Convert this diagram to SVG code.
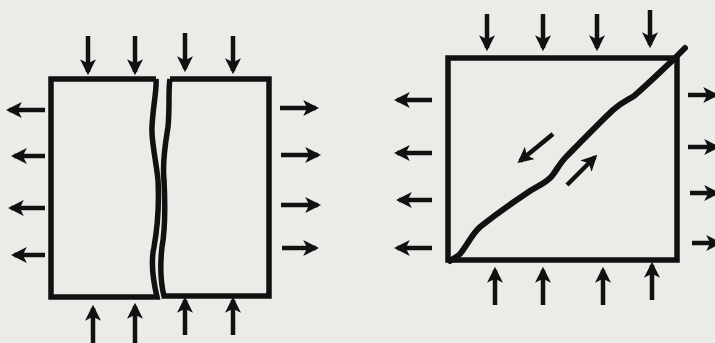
<svg xmlns="http://www.w3.org/2000/svg" width="715" height="343" viewBox="0 0 715 343">
<defs>
<marker id="ah" viewBox="0 0 10 10" refX="8" refY="5" markerUnits="userSpaceOnUse" markerWidth="16" markerHeight="16" orient="auto">
<path d="M0,0 L10,5 L0,10 L2.5,5 z" fill="#111"/>
</marker>
<style>
.edge{stroke:#111;stroke-width:4.5;fill:none;marker-end:url(#ah)}
.outline{stroke:#111;stroke-width:5.5;fill:none;stroke-linejoin:miter}
.crack{stroke:#111;stroke-width:6;fill:none;stroke-linecap:round;stroke-linejoin:round}
</style>
</defs>
<rect width="715" height="343" fill="#ebebe8"/>
<g id="left-block-a">
<path class="outline" d="M156,79 L51,79 L51,297 L157,297 C153,280 151,260 154,247 C158,225 159,200 158,180 C156,160 151,140 152,127 C153,105 157,90 156,79"/>
</g>
<g id="left-block-b">
<path class="outline" d="M170,79 L269,79 L269,296 L164,296 C160,280 160,265 162,247 C166,225 165,200 164,180 C162,160 166,140 168,127 C170,105 168,90 170,79"/>
</g>
<g id="right-block">
<rect class="outline" x="448" y="58" width="229" height="202"/>
<path class="crack" d="M450,261 C453,258 456,258 460,254 C468,244 472,234 480,227 C495,215 512,203 527,193 C537,186 545,184 552,176 C558,168 560,163 566,157 C582,141 598,124 613,110 C622,102 628,100 634,96 C648,84 660,72 673,60 L685,48"/>
</g>
<g id="connectors">
<line class="edge" x1="88" y1="36" x2="88" y2="72"/>
<line class="edge" x1="135" y1="36" x2="135" y2="72"/>
<line class="edge" x1="185" y1="33" x2="185" y2="69"/>
<line class="edge" x1="233" y1="36" x2="233" y2="71"/>
<line class="edge" x1="93" y1="343" x2="93" y2="308"/>
<line class="edge" x1="135" y1="343" x2="135" y2="306"/>
<line class="edge" x1="185" y1="335" x2="185" y2="300"/>
<line class="edge" x1="233" y1="335" x2="233" y2="300"/>
<line class="edge" x1="45" y1="110" x2="9" y2="110"/>
<line class="edge" x1="45" y1="156" x2="14" y2="156"/>
<line class="edge" x1="45" y1="208" x2="11" y2="208"/>
<line class="edge" x1="45" y1="255" x2="14" y2="255"/>
<line class="edge" x1="280" y1="108" x2="316" y2="108"/>
<line class="edge" x1="281" y1="155" x2="318" y2="155"/>
<line class="edge" x1="281" y1="205" x2="318" y2="205"/>
<line class="edge" x1="282" y1="248" x2="316" y2="248"/>
<line class="edge" x1="487" y1="14" x2="487" y2="48"/>
<line class="edge" x1="543" y1="14" x2="543" y2="48"/>
<line class="edge" x1="597" y1="14" x2="597" y2="48"/>
<line class="edge" x1="650" y1="10" x2="650" y2="45"/>
<line class="edge" x1="495" y1="305" x2="495" y2="270"/>
<line class="edge" x1="543" y1="305" x2="543" y2="270"/>
<line class="edge" x1="603" y1="305" x2="603" y2="270"/>
<line class="edge" x1="652" y1="300" x2="652" y2="265"/>
<line class="edge" x1="432" y1="100" x2="397" y2="100"/>
<line class="edge" x1="432" y1="153" x2="397" y2="153"/>
<line class="edge" x1="432" y1="200" x2="399" y2="200"/>
<line class="edge" x1="432" y1="248" x2="397" y2="248"/>
<line class="edge" x1="688" y1="95" x2="716" y2="95"/>
<line class="edge" x1="688" y1="147" x2="717" y2="147"/>
<line class="edge" x1="690" y1="193" x2="717" y2="193"/>
<line class="edge" x1="692" y1="243" x2="719" y2="243"/>
<line class="edge" x1="553" y1="134" x2="520" y2="161"/>
<line class="edge" x1="567" y1="185" x2="595" y2="157"/>
</g>
</svg>
